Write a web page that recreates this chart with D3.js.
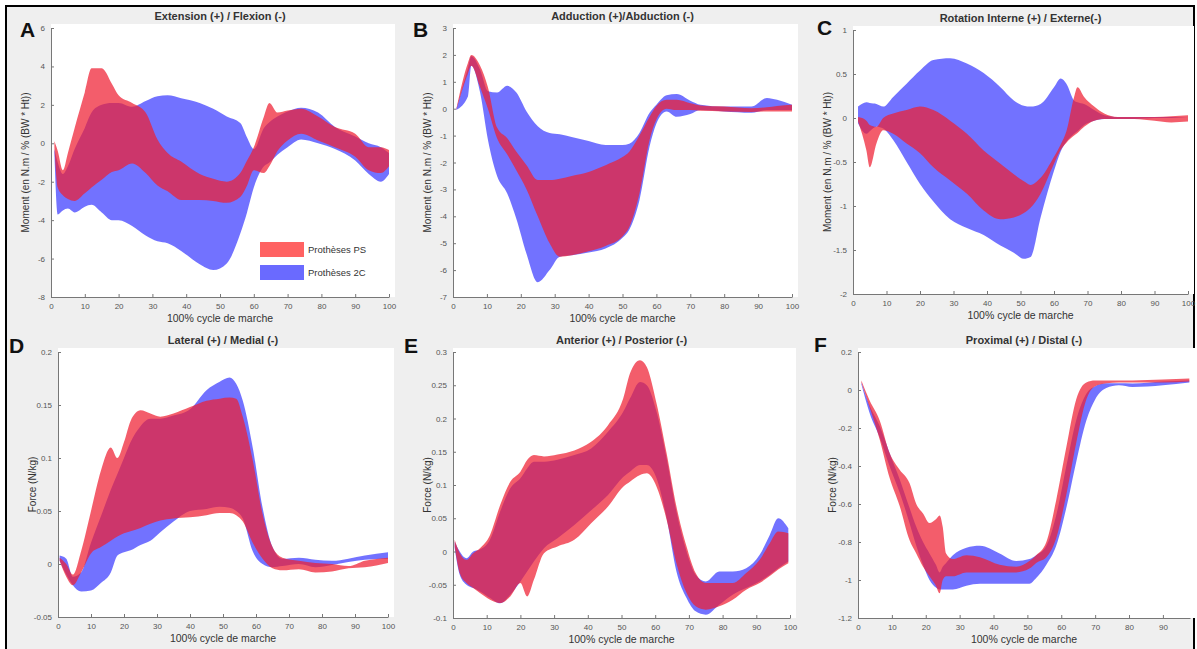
<!DOCTYPE html>
<html><head><meta charset="utf-8">
<script src="https://cdn.jsdelivr.net/npm/d3@7"></script>
<style>
html,body{margin:0;padding:0;background:#fff;}
svg{display:block;font-family:"Liberation Sans",Arial,sans-serif;}
</style></head>
<body>
<svg id="chart" width="1197" height="649"></svg>
<script>
// ---------- DATA ----------
const seriesNames = ["Prothèses PS", "Prothèses 2C"];
const panelLetters = ["A","B","C","D","E","F"];
const panelTitles = ["Extension (+) / Flexion (-)", "Adduction (+)/Abduction (-)", "Rotation Interne (+) / Externe(-)",
  "Lateral (+) / Medial (-)", "Anterior (+) / Posterior (-)", "Proximal (+) / Distal (-)"];
const xLabel = "100% cycle de marche";
const yLabelMoment = "Moment (en N.m / % (BW * Ht))";
const yLabelForce = "Force (N/kg)";
const xTicks100 = [0,10,20,30,40,50,60,70,80,90,100];
const xTicks90 = [0,10,20,30,40,50,60,70,80,90];
const aYTicks = [-8,-6,-4,-2,0,2,4,6];
const bYTicks = [-7,-6,-5,-4,-3,-2,-1,0,1,2,3];
const cYTicks = [-2,-1.5,-1,-0.5,0,0.5,1];
const dYTicks = [-0.05,0,0.05,0.1,0.15,0.2];
const eYTicks = [-0.1,-0.05,0,0.05,0.1,0.15,0.2,0.25,0.3];
const fYTicks = [-1.2,-1,-0.8,-0.6,-0.4,-0.2,0,0.2];

// Panel A
const aX      = [1,2,3.5,5,7,10,12,15,18,20,24,28,31.5,34.5,38.5,44,48,52,56,58,60,63,64.6,67,70,74,79,84,90,94,97.6,100];
const aRedHi  = [0.1,-0.4,-1.4,-0.5,0.8,2.65,3.9,3.9,3.1,2.5,2.1,1.6,0.2,-0.5,-0.95,-1.6,-1.85,-2.0,-1.55,-0.9,-0.2,1.4,2.1,1.6,1.7,1.8,1.4,0.85,0.5,-0.2,-0.2,-0.35];
const aRedLo  = [-0.2,-2.3,-2.7,-2.9,-3.0,-2.6,-2.3,-1.9,-1.5,-1.4,-1.05,-1.55,-2.2,-2.5,-2.95,-2.95,-3.0,-3.1,-2.8,-2.2,-1.4,-1.55,-1.2,-0.4,0.15,0.5,0.15,-0.2,-0.7,-1.4,-1.55,-1.2];
const aBlueHi = [-0.3,-1.0,-1.6,-1.2,-0.3,0.8,1.6,2.0,2.1,2.1,1.9,2.2,2.45,2.5,2.35,2.1,1.8,1.4,1.05,0.3,-0.3,0.8,1.1,1.4,1.65,1.85,1.6,0.85,0.35,0.0,-0.2,-0.5];
const aBlueLo = [-0.5,-3.7,-3.5,-3.4,-3.6,-3.3,-3.2,-3.6,-4.0,-4.0,-4.3,-4.8,-5.1,-5.2,-5.6,-6.3,-6.6,-6.25,-4.7,-3.6,-2.3,-1.2,-1.0,-0.6,-0.2,0.2,0.0,-0.3,-0.9,-1.6,-2.0,-1.6];

// Panel B
const bX      = [1,4.4,5.4,8,10.3,13,16,18.7,21.7,25,28.5,31.5,35,40,45,50,52,55,58,60,63,66,70,73,80,88,92.6,95.6,100];
const bRedHi  = [0.0,1.7,2.0,1.6,0.8,-0.7,-1.1,-1.6,-2.1,-2.65,-2.65,-2.6,-2.5,-2.35,-2.1,-1.8,-1.6,-1.0,-0.3,0.1,0.33,0.33,0.2,0.12,0.08,0.02,0.05,0.1,0.15];
const bRedLo  = [-0.05,1.3,1.6,0.8,0.0,-1.1,-1.7,-2.3,-3.0,-4.0,-5.0,-5.5,-5.45,-5.3,-5.1,-4.75,-4.4,-3.15,-1.15,-0.4,0.0,-0.05,-0.05,-0.08,-0.1,-0.12,-0.1,-0.1,-0.1];
const bBlueHi = [0.0,1.5,1.95,1.45,0.65,0.6,0.85,0.6,-0.1,-0.65,-0.9,-0.95,-1.05,-1.2,-1.35,-1.35,-1.3,-0.9,-0.15,0.15,0.5,0.55,0.3,0.15,0.08,0.08,0.4,0.33,0.15];
const bBlueLo = [-0.05,0.45,1.6,0.6,-1.15,-2.5,-3.15,-4.1,-5.4,-6.45,-6.0,-5.5,-5.45,-5.35,-5.2,-4.8,-4.5,-3.4,-1.4,-0.55,-0.1,-0.3,-0.2,-0.05,-0.1,-0.15,-0.05,-0.05,-0.05];

// Panel C
const cX      = [1.5,4,5,7,9,12,16,20,24,29,34,39,44,48,51,53,56,60,62,63.7,66,67,69,72,75,79,84,90,95,100];
const cRedHi  = [0.01,-0.03,-0.08,-0.1,0.0,0.05,0.09,0.13,0.09,-0.03,-0.18,-0.37,-0.52,-0.64,-0.72,-0.76,-0.68,-0.44,-0.3,-0.15,0.24,0.35,0.24,0.13,0.05,0.01,0.01,0.01,0.02,0.03];
const cRedLo  = [-0.04,-0.37,-0.56,-0.29,-0.14,-0.18,-0.29,-0.4,-0.56,-0.71,-0.86,-1.05,-1.15,-1.13,-1.08,-1.02,-0.86,-0.52,-0.36,-0.28,-0.2,-0.17,-0.1,-0.03,-0.01,-0.01,-0.01,-0.03,-0.05,-0.04];
const cBlueHi = [0.13,0.18,0.17,0.16,0.13,0.24,0.39,0.54,0.66,0.68,0.62,0.51,0.35,0.2,0.14,0.13,0.16,0.35,0.45,0.39,0.2,0.18,0.16,0.09,0.03,0.01,0.01,0.01,0.01,0.01];
const cBlueLo = [-0.06,-0.18,-0.15,-0.1,-0.12,-0.25,-0.5,-0.75,-0.95,-1.15,-1.25,-1.33,-1.45,-1.53,-1.6,-1.58,-1.13,-0.6,-0.38,-0.27,-0.18,-0.15,-0.08,-0.03,-0.01,-0.01,-0.01,0.0,0.0,0.01];

// Panel D
const dX      = [0.5,2.5,4.5,7,10,13,16,18,20,22,25,28,31,35,40,45,49,52,54,56,59,62,65,68,73,78,83,88,93,100];
const dRedHi  = [0.006,0.0,-0.01,0.012,0.05,0.088,0.11,0.1,0.115,0.135,0.145,0.142,0.139,0.142,0.148,0.154,0.156,0.157,0.156,0.139,0.098,0.047,0.016,0.006,0.003,0.001,0.0,-0.002,0.003,0.006];
const dRedLo  = [0.003,-0.012,-0.02,-0.008,0.01,0.016,0.022,0.026,0.029,0.031,0.034,0.038,0.041,0.043,0.044,0.046,0.048,0.048,0.046,0.04,0.02,0.005,-0.004,-0.006,-0.005,-0.008,-0.007,-0.004,-0.003,0.001];
const dBlueHi = [0.008,0.005,-0.012,-0.008,0.02,0.045,0.07,0.085,0.1,0.115,0.13,0.137,0.137,0.14,0.146,0.164,0.172,0.176,0.17,0.154,0.11,0.053,0.016,0.005,0.006,0.004,0.003,0.005,0.008,0.011];
const dBlueLo = [0.003,-0.01,-0.02,-0.026,-0.025,-0.018,-0.008,0.008,0.011,0.013,0.018,0.022,0.03,0.04,0.05,0.052,0.054,0.053,0.05,0.043,0.012,0.0,-0.003,-0.002,0.0,-0.003,-0.001,0.002,0.004,0.005];

// Panel E
const eX      = [0.5,2,4,6,8,11,14,17,20,22,24,27,31,36,41,46,50.5,52.5,55.5,57.5,60.4,63.4,66.3,69.3,72,75,79,83,87,91,94,96.5,99.5];
const eRedHi  = [0.0175,-0.0025,-0.0125,-0.0025,0.005,0.025,0.07,0.105,0.12,0.1375,0.145,0.143,0.146,0.152,0.165,0.19,0.23,0.2675,0.2875,0.2775,0.2225,0.1475,0.0675,0.0075,-0.0325,-0.0475,-0.0475,-0.0475,-0.0325,-0.0125,0.0125,0.03,0.0275];
const eRedLo  = [0.0075,-0.0325,-0.0475,-0.055,-0.0625,-0.0725,-0.0775,-0.0675,-0.0475,-0.0675,-0.0425,-0.0025,0.0075,0.0175,0.0425,0.0675,0.0975,0.105,0.115,0.1175,0.0975,0.0475,-0.0175,-0.0625,-0.0825,-0.0875,-0.0825,-0.0725,-0.0575,-0.0475,-0.037,-0.027,-0.0175];
const eBlueHi = [0.015,0.0,-0.01,0.0,0.003,0.018,0.06,0.095,0.11,0.125,0.135,0.135,0.138,0.145,0.155,0.18,0.21,0.23,0.255,0.25,0.21,0.14,0.06,0.0,-0.035,-0.045,-0.03,-0.03,-0.025,-0.005,0.025,0.05,0.035];
const eBlueLo = [0.005,-0.035,-0.05,-0.055,-0.06,-0.07,-0.078,-0.065,-0.045,-0.03,-0.015,0.005,0.02,0.04,0.062,0.085,0.112,0.12,0.13,0.13,0.11,0.05,-0.03,-0.07,-0.09,-0.095,-0.08,-0.065,-0.055,-0.045,-0.035,-0.025,-0.015];

// Panel F
const fX      = [1,3.4,6.4,9.3,12.3,15.2,17.2,19.2,21.1,23,24.1,25,26,28,32,36,41.8,46.7,50.6,52.6,55.6,58.5,61.5,64.4,67.4,70,73.3,77,81,90,97.8];
const fRedHi  = [0.05,-0.054,-0.16,-0.33,-0.42,-0.49,-0.6,-0.65,-0.7,-0.68,-0.66,-0.72,-0.86,-0.89,-0.87,-0.88,-0.92,-0.93,-0.9,-0.87,-0.8,-0.58,-0.3,-0.05,0.04,0.05,0.05,0.05,0.05,0.055,0.06];
const fRedLo  = [0.04,-0.09,-0.26,-0.46,-0.61,-0.79,-0.86,-0.93,-0.98,-1.03,-1.07,-1.0,-0.98,-0.98,-0.96,-0.96,-0.96,-0.96,-0.94,-0.91,-0.88,-0.78,-0.55,-0.28,-0.05,0.02,0.035,0.04,0.04,0.04,0.045];
const fBlueHi = [0.04,-0.08,-0.19,-0.33,-0.47,-0.62,-0.72,-0.8,-0.86,-0.92,-0.96,-0.93,-0.91,-0.87,-0.83,-0.82,-0.86,-0.9,-0.89,-0.87,-0.82,-0.66,-0.4,-0.16,-0.02,0.02,0.035,0.035,0.034,0.045,0.05];
const fBlueLo = [0.03,-0.12,-0.25,-0.4,-0.54,-0.7,-0.82,-0.92,-1.0,-1.04,-1.05,-1.05,-1.05,-1.05,-1.03,-1.02,-1.02,-1.02,-1.02,-0.99,-0.92,-0.82,-0.62,-0.38,-0.16,-0.05,0.01,0.025,0.016,0.025,0.04];

// ---------- LAYOUT ----------
const panels = [
  {x:aX, r:[aRedLo,aRedHi], b:[aBlueLo,aBlueHi], xd:[0,100], xt:xTicks100, yd:[-8,6], yt:aYTicks, L:51, R:389, T:28, B:297, ylab:yLabelMoment, legend:true},
  {x:bX, r:[bRedLo,bRedHi], b:[bBlueLo,bBlueHi], xd:[0,100], xt:xTicks100, yd:[-7,3], yt:bYTicks, L:453, R:792, T:28, B:297, ylab:yLabelMoment},
  {x:cX, r:[cRedLo,cRedHi], b:[cBlueLo,cBlueHi], xd:[0,100], xt:xTicks100, yd:[-2,1], yt:cYTicks, L:853, R:1188, T:30, B:294, ylab:yLabelMoment},
  {x:dX, r:[dRedLo,dRedHi], b:[dBlueLo,dBlueHi], xd:[0,100], xt:xTicks100, yd:[-0.05,0.2], yt:dYTicks, L:58, R:388, T:352, B:617, ylab:yLabelForce},
  {x:eX, r:[eRedLo,eRedHi], b:[eBlueLo,eBlueHi], xd:[0,100], xt:xTicks100, yd:[-0.1,0.3], yt:eYTicks, L:453, R:790, T:352, B:618, ylab:yLabelForce},
  {x:fX, r:[fRedLo,fRedHi], b:[fBlueLo,fBlueHi], xd:[0,98], xt:xTicks90, yd:[-1.2,0.2], yt:fYTicks, L:858, R:1190, T:352, B:618, ylab:yLabelForce}
];
const letterPos = [[20,37],[413,37],[817,35],[9,353],[404,353],[814,352]];

const RED = "rgba(238,30,50,0.72)";
const BLUE = "rgba(95,95,255,0.88)";
const RED_SW = "#ff6262";
const BLUE_SW = "#6a6aff";

const svg = d3.select("#chart");
svg.append("rect").attr("x",6).attr("y",6).attr("width",1188).attr("height",700)
  .attr("fill","#efefef").attr("stroke","#000").attr("stroke-width",2);

const fmt = v => d3.format("~g")(v).replace("−","-");

panels.forEach((p,i) => {
  const g = svg.append("g");
  const x = d3.scaleLinear().domain(p.xd).range([p.L,p.R]);
  const y = d3.scaleLinear().domain(p.yd).range([p.B,p.T]);
  g.append("rect").attr("x",p.L).attr("y",p.T-4).attr("width",p.R-p.L+6).attr("height",p.B-p.T+4).attr("fill","#fff");

  const mk = (lo,hi) => p.x.map((xv,k)=>({x:xv,lo:lo[k],hi:hi[k]}));
  const area = d3.area().curve(d3.curveMonotoneX).x(d=>x(d.x)).y0(d=>y(d.lo)).y1(d=>y(d.hi));
  g.append("path").datum(mk(p.b[0],p.b[1])).attr("d",area).attr("fill",BLUE);
  g.append("path").datum(mk(p.r[0],p.r[1])).attr("d",area).attr("fill",RED);

  const xa = g.append("g").attr("transform",`translate(0,${p.B})`)
    .call(d3.axisBottom(x).tickValues(p.xt).tickFormat(fmt).tickSizeInner(-3).tickSizeOuter(0).tickPadding(6));
  const ya = g.append("g").attr("transform",`translate(${p.L},0)`)
    .call(d3.axisLeft(y).tickValues(p.yt).tickFormat(fmt).tickSizeInner(-3).tickSizeOuter(0).tickPadding(6));
  [xa,ya].forEach(a=>{
    a.select(".domain").attr("stroke","#777");
    a.selectAll(".tick line").attr("stroke","#777");
    a.selectAll("text").attr("fill","#555").style("font-size","8px").style("font-family","'Liberation Sans',Arial,sans-serif");
  });

  const cx = (p.L+p.R)/2;
  g.append("text").attr("x",cx).attr("y",p.T-8).attr("text-anchor","middle")
    .style("font-size","11px").style("font-weight","bold").attr("fill","#333").text(panelTitles[i]);
  g.append("text").attr("x",cx).attr("y",p.B+25).attr("text-anchor","middle")
    .style("font-size","10.5px").attr("fill","#333").text(xLabel);
  const ly = (p.T+p.B)/2;
  g.append("text").attr("transform",`translate(${p.L-22},${ly}) rotate(-90)`).attr("text-anchor","middle")
    .style("font-size","10px").attr("fill","#333").text(p.ylab);
  svg.append("text").attr("x",letterPos[i][0]).attr("y",letterPos[i][1])
    .style("font-size","21px").style("font-weight","bold").attr("fill","#111").text(panelLetters[i]);

  if (p.legend) {
    const lg = g.append("g");
    [[RED_SW,seriesNames[0],242],[BLUE_SW,seriesNames[1],265]].forEach(([c,t,yy])=>{
      lg.append("rect").attr("x",260).attr("y",yy).attr("width",44).attr("height",15).attr("fill",c);
      lg.append("text").attr("x",308).attr("y",yy+11).style("font-size","9.5px").attr("fill","#333").text(t);
    });
  }
});
</script>
</body></html>
